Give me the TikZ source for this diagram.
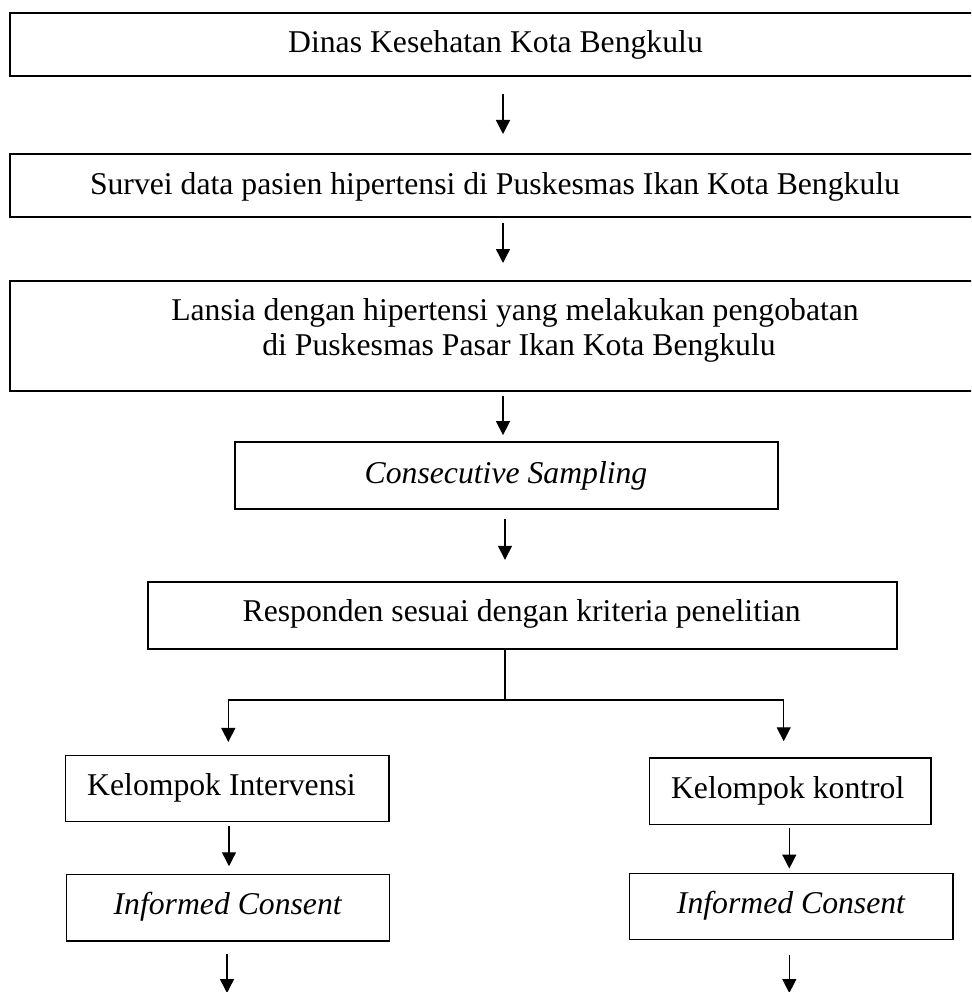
\documentclass[tikz,border=0pt]{standalone}
\usepackage{fontspec}
\setmainfont{Liberation Serif}
\usetikzlibrary{arrows.meta}
\begin{document}
\begin{tikzpicture}[x=1pt,y=-1pt,
  boxA/.style={draw=black,line width=2pt,inner sep=0pt,rectangle},
  boxB/.style={draw=black,line width=1.8pt,inner sep=0pt,rectangle},
  boxC/.style={draw=black,line width=1.5pt,inner sep=0pt,rectangle},
  lbl/.style={anchor=base,inner sep=0pt,font=\fontsize{31.7}{35}\selectfont},
  conn/.style={draw=black,line width=1.4pt},
  arr/.style={conn,-{Triangle[length=14pt,width=14pt]}}]
\useasboundingbox (0,0) rectangle (971,992);
\clip (0,0) rectangle (971,992);
% boxes
\node[boxA,minimum width=971pt,minimum height=63.3pt] (b1) at (495.5,44.35) {};
\node[boxA,minimum width=970pt,minimum height=63pt] (b2) at (495,185.5) {};
\node[boxA,minimum width=1014pt,minimum height=110pt] (b3) at (517,336) {};
\node[boxB,minimum width=543pt,minimum height=67.3pt] (cs) at (506.2,475.65) {};
\node[boxB,minimum width=749pt,minimum height=67pt] (resp) at (522.2,615.8) {};
\node[boxC,minimum width=323.3pt,minimum height=66pt] (ki) at (227.35,788.3) {};
\node[boxC,minimum width=281.3pt,minimum height=66.3pt] (kk) at (790.35,791.15) {};
\node[boxC,minimum width=323.4pt,minimum height=66.3pt] (icl) at (228,907.85) {};
\node[boxC,minimum width=323.3pt,minimum height=66pt] (icr) at (791.35,906.7) {};
% texts
\node[lbl] (t1) at (495.5,53) {Dinas Kesehatan Kota Bengkulu};
\node[lbl] (t2) at (495,195) {Survei data pasien hipertensi di Puskesmas Ikan Kota Bengkulu};
\node[lbl] (t3a) at (515,320) {Lansia dengan hipertensi yang melakukan pengobatan};
\node[lbl] (t3b) at (519,355) {di Puskesmas Pasar Ikan Kota Bengkulu};
\node[lbl] (tcs) at (506,483) {\itshape Consecutive Sampling};
\node[lbl] (tresp) at (521.7,621.7) {Responden sesuai dengan kriteria penelitian};
\node[lbl] (tki) at (221.5,795) {Kelompok Intervensi};
\node[lbl] (tkk) at (787.7,798.7) {Kelompok kontrol};
\node[lbl] (ticl) at (227.7,914.7) {\itshape Informed Consent};
\node[lbl] (ticr) at (791,913.7) {\itshape Informed Consent};
% connector columns
\coordinate (ax) at (503,0);
\coordinate (bx) at (505,0);
\coordinate (split) at (505,700);
\coordinate (jl) at (228.3,700);
\coordinate (jr) at (783.7,700);
\coordinate (lx) at (229,0);
\coordinate (rx) at (789.3,0);
\coordinate (endl) at (227,993);
\coordinate (endr) at (789.3,993);
% arrows
\draw[arr,shorten <=17pt,shorten >=19pt] (b1.south -| ax) -- (b2.north -| ax);
\draw[arr,shorten <=5pt,shorten >=17pt] (b2.south -| ax) -- (b3.north -| ax);
\draw[arr,shorten <=4pt,shorten >=6pt] (b3.south -| ax) -- (cs.north -| ax);
\draw[arr,shorten <=9pt,shorten >=21.6pt] (cs.south -| bx) -- (resp.north -| bx);
\draw[conn] (resp.south -| split) -- (split);
\draw[arr,shorten >=12.6pt] (split) -| (ki.north -| jl);
\draw[arr,shorten >=16pt] (split) -| (kk.north -| jr);
\draw[arr,shorten <=4pt,shorten >=7.7pt] (ki.south -| lx) -- (icl.north -| lx);
\draw[arr,shorten <=2.7pt,shorten >=4.4pt] (kk.south -| rx) -- (icr.north -| rx);
\draw[arr,shorten <=12pt] (icl.south -| endl) -- (endl);
\draw[arr,shorten <=14.6pt] (icr.south -| endr) -- (endr);
\end{tikzpicture}
\end{document}
